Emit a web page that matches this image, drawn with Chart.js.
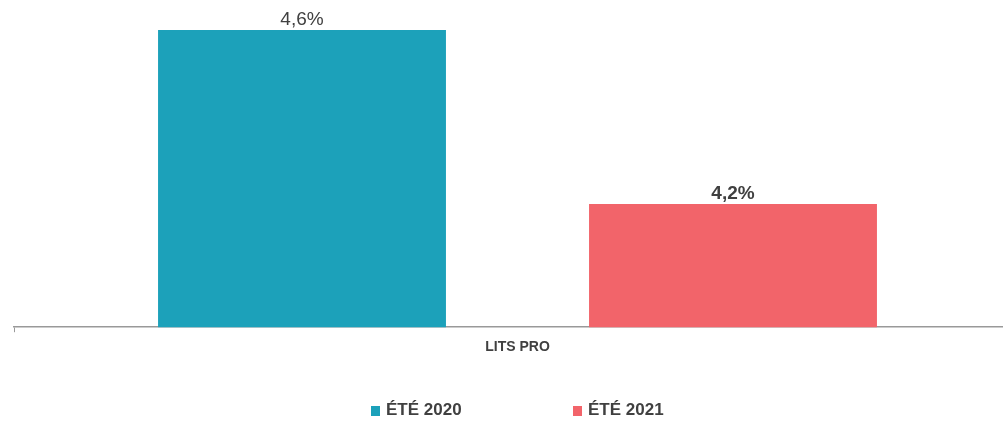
<!DOCTYPE html>
<html>
<head>
<meta charset="utf-8">
<script src="https://cdn.jsdelivr.net/npm/chart.js@4"></script>
<style>
  html, body { margin: 0; padding: 0; background: #fff; overflow: hidden; }
  #wrap { position: relative; width: 1003px; height: 422px; overflow: hidden; }
  #chart { position: absolute; left: 0; top: 0; }
  #legend {
    position: absolute; top: 400px; left: 0; width: 1003px; height: 20px;
    font: bold 17px "Liberation Sans", Arial, sans-serif; color: #404040;
  }
  #legend span.item { position: absolute; top: 0; line-height: 20px; white-space: nowrap; }
  #legend span.box { display: inline-block; width: 9px; height: 10px; margin-right: 6px; vertical-align: -1px; }
</style>
</head>
<body>
<div id="wrap">
  <canvas id="chart" width="1022" height="422"></canvas>
  <div id="legend"></div>
</div>
<script>
// données
const categories = ["LITS PRO"];
const seriesNames = ["ÉTÉ 2020", "ÉTÉ 2021"];
const valeurs2020 = [4.6];
const valeurs2021 = [4.2];
const couleurs = ["#1CA1BA", "#F2646A"];
const etiquettesBold = [false, true];

const fontFamily = '"Liberation Sans", Arial, sans-serif';

// étiquettes au-dessus des barres
const valueLabels = {
  id: "valueLabels",
  afterDatasetsDraw(chart) {
    const ctx = chart.ctx;
    chart.data.datasets.forEach((ds, i) => {
      const meta = chart.getDatasetMeta(i);
      meta.data.forEach((bar, j) => {
        const txt = ds.data[j].toFixed(1).replace(".", ",") + "%";
        ctx.save();
        ctx.font = (etiquettesBold[i] ? "bold " : "") + "19px " + fontFamily;
        ctx.fillStyle = "#404040";
        ctx.textAlign = "center";
        ctx.textBaseline = "alphabetic";
        ctx.fillText(txt, bar.x, bar.y - 5);
        ctx.restore();
      });
    });
  }
};

new Chart(document.getElementById("chart"), {
  type: "bar",
  data: {
    labels: categories,
    datasets: [
      { label: seriesNames[0], data: valeurs2020, backgroundColor: couleurs[0] },
      { label: seriesNames[1], data: valeurs2021, backgroundColor: couleurs[1] }
    ]
  },
  options: {
    responsive: false,
    animation: false,
    categoryPercentage: 0.856,
    barPercentage: 0.668,
    layout: { padding: { left: 14, right: 1, top: 30, bottom: 59 } },
    plugins: {
      legend: { display: false },
      tooltip: { enabled: false }
    },
    scales: {
      x: {
        grid: { display: true, drawOnChartArea: false, offset: true, tickLength: 5, color: "#999", lineWidth: 1 },
        border: { display: true, color: "#999", width: 1.5 },
        ticks: { color: "#404040", font: { family: fontFamily, size: 14, weight: "bold" }, padding: 7 }
      },
      y: {
        display: false,
        min: 3.917,
        max: 4.6
      }
    }
  },
  plugins: [valueLabels]
});

// légende
const legend = document.getElementById("legend");
const positions = [371, 573];
seriesNames.forEach((nom, i) => {
  const item = document.createElement("span");
  item.className = "item";
  item.style.left = positions[i] + "px";
  item.innerHTML = '<span class="box" style="background:' + couleurs[i] + '"></span>' + nom;
  legend.appendChild(item);
});
</script>
</body>
</html>
